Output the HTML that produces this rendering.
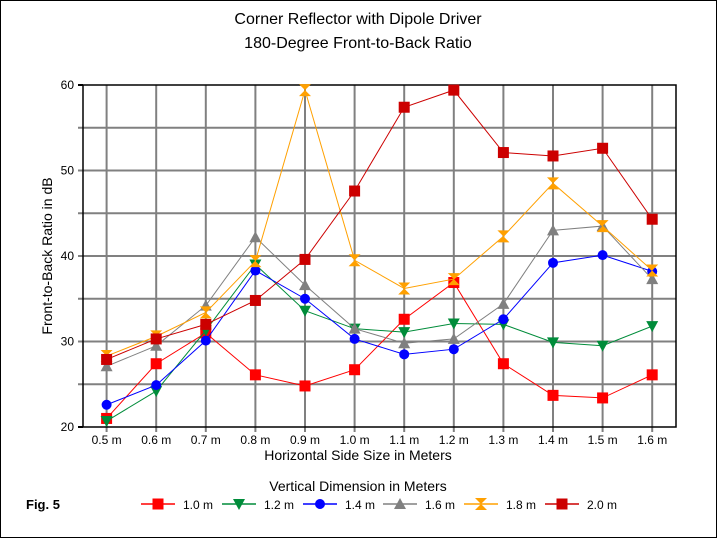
<!DOCTYPE html>
<html><head><style>
html,body{margin:0;padding:0;background:#fff;}
svg{display:block;font-family:"Liberation Sans",Arial,sans-serif;}
</style></head><body>
<svg width="717" height="538" xmlns="http://www.w3.org/2000/svg">
<rect x="0.5" y="0.5" width="716" height="537" fill="#fff" stroke="#000"/>
<text x="358" y="24" font-size="16" text-anchor="middle">Corner Reflector with Dipole Driver</text>
<text x="358" y="48" font-size="16" text-anchor="middle">180-Degree Front-to-Back Ratio</text>
<g id="grid" stroke="#808080" stroke-width="2"></g>
<rect x="83" y="85" width="593" height="342" fill="none" stroke="#000" stroke-width="1.5"/>
<g id="ylab" font-size="12" text-anchor="end"></g>
<g id="xlab" font-size="12" text-anchor="middle"></g>
<text x="358" y="460" font-size="14" text-anchor="middle">Horizontal Side Size in Meters</text>
<text transform="translate(52,256) rotate(-90)" font-size="14" text-anchor="middle">Front-to-Back Ratio in dB</text>
<g id="series"></g>
<text x="358" y="491" font-size="14" text-anchor="middle">Vertical Dimension in Meters</text>
<text x="26" y="509" font-size="13" font-weight="bold">Fig. 5</text>
<g id="legend" font-size="12"></g>
</svg>
<script>
const NS="http://www.w3.org/2000/svg";
function el(t,a,p){const e=document.createElementNS(NS,t);for(const k in a)e.setAttribute(k,a[k]);if(p)p.appendChild(e);return e;}
const X=i=>106.6+i*49.6, Y=v=>427-(v-20)*8.55;
const g=document.getElementById('grid');
for(let i=0;i<12;i++)el('line',{x1:X(i),x2:X(i),y1:85,y2:432},g);
for(let k=1;k<8;k++)el('line',{x1:78,x2:676,y1:85+k*42.75,y2:85+k*42.75},g);
el('line',{x1:78,x2:83,y1:85,y2:85,stroke:'#000'},g);el('line',{x1:78,x2:83,y1:427,y2:427,stroke:'#000'},g);
const yl=document.getElementById('ylab');
[20,30,40,50,60].forEach(v=>{const t=el('text',{x:74,y:Y(v)+4},yl);t.textContent=v;});
const xl=document.getElementById('xlab');
for(let i=0;i<12;i++){const t=el('text',{x:X(i),y:444},xl);t.textContent=(0.5+i*0.1).toFixed(1)+' m';}
const S=[
['#ff0000','sq',[21.0,27.4,31.0,26.1,24.8,26.7,32.6,36.9,27.4,23.7,23.4,26.1],'1.0 m'],
['#008c3a','tri',[20.7,24.2,31.3,39.0,33.6,31.5,31.1,32.1,32.0,29.9,29.5,31.8],'1.2 m'],
['#0000ff','cir',[22.6,24.9,30.1,38.3,35.0,30.3,28.5,29.1,32.6,39.2,40.1,38.2],'1.4 m'],
['#808080','up',[27.1,29.5,34.2,42.2,36.6,31.5,29.8,30.3,34.4,43.0,43.5,37.3],'1.6 m'],
['#ffa000','hg',[28.3,30.6,33.4,39.4,59.4,39.5,36.2,37.3,42.3,48.5,43.5,38.3],'1.8 m'],
['#cc0000','sq',[27.9,30.3,32.0,34.8,39.6,47.6,57.4,59.4,52.1,51.7,52.6,44.3],'2.0 m']];
function mk(t,x,y,c,p){
 if(t=='sq')el('rect',{x:x-5.5,y:y-5.5,width:11,height:11,fill:c},p);
 else if(t=='cir')el('circle',{cx:x,cy:y,r:5,fill:c},p);
 else if(t=='tri')el('polygon',{points:`${x-6},${y-5} ${x+6},${y-5} ${x},${y+6}`,fill:c},p);
 else if(t=='up')el('polygon',{points:`${x-6},${y+5} ${x+6},${y+5} ${x},${y-6}`,fill:c},p);
 else el('polygon',{points:`${x-6},${y-6} ${x+6},${y-6} ${x-6},${y+6} ${x+6},${y+6}`,fill:c},p);
}
const sg=document.getElementById('series');
S.forEach(s=>{el('polyline',{points:s[2].map((v,i)=>X(i)+','+Y(v)).join(' '),fill:'none',stroke:s[0],'stroke-width':1},sg);
 s[2].forEach((v,i)=>mk(s[1],X(i),Y(v),s[0],sg));});
const lg=document.getElementById('legend');
const lx=[141,222,303,383,464,545];
S.forEach((s,i)=>{el('line',{x1:lx[i],x2:lx[i]+34,y1:504,y2:504,stroke:s[0],'stroke-width':1.5},lg);
 mk(s[1],lx[i]+17,504,s[0],lg);const t=el('text',{x:lx[i]+42,y:509},lg);t.textContent=s[3];});
</script>
</body></html>
